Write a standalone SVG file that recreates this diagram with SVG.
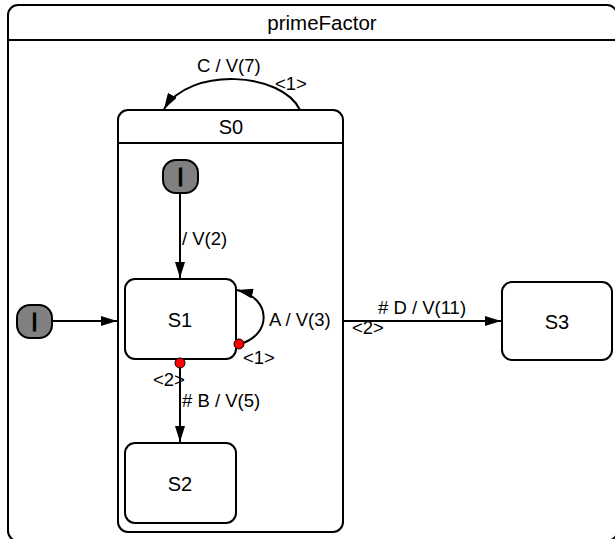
<svg xmlns="http://www.w3.org/2000/svg" width="615" height="539" viewBox="0 0 615 539">
<defs>
<style>
.st{fill:#fff;stroke:#000;stroke-width:2}
.hd{stroke:#000;stroke-width:2}
.ini{fill:#808080;stroke:#000;stroke-width:2}
.name{font-family:"Liberation Sans",Arial,sans-serif;font-size:20px;text-anchor:middle;fill:#000}
.ii{font-family:"Liberation Sans",Arial,sans-serif;font-size:25px;text-anchor:middle;fill:#000;stroke:#000;stroke-width:0.9}
.title{font-family:"Liberation Sans",Arial,sans-serif;font-size:20.5px;text-anchor:middle;fill:#000}
.lbl{font-family:"Liberation Sans",Arial,sans-serif;font-size:18.5px;fill:#000}
.con{fill:none;stroke:#000;stroke-width:2;marker-end:url(#arr)}
.dot{fill:#f00;stroke:#000;stroke-width:1}
</style>
<marker id="arr" viewBox="0 0 16 10" refX="16" refY="5" markerWidth="16" markerHeight="10" markerUnits="userSpaceOnUse" orient="auto">
<path d="M0,0 L16,5 L0,10 z" fill="#000"/>
</marker>
</defs>
<g id="primeFactor">
<rect class="st" x="8" y="5" width="609" height="536" rx="10"/>
<line class="hd" x1="8" y1="40" x2="617" y2="40"/>
<text class="title" x="322" y="30">primeFactor</text>
</g>
<g id="S0">
<rect class="st" x="118" y="110" width="225" height="422" rx="10"/>
<line class="hd" x1="118" y1="143" x2="343" y2="143"/>
<text class="name" x="231" y="134">S0</text>
</g>
<g id="init_outer">
<rect class="ini" x="17" y="305" width="35" height="33" rx="13"/>
<text class="ii" x="34.5" y="330.5">I</text>
</g>
<g id="init_inner">
<rect class="ini" x="163" y="160" width="35" height="33" rx="13"/>
<text class="ii" x="180.5" y="185.5">I</text>
</g>
<g id="S1">
<rect class="st" x="125" y="279" width="111" height="80" rx="10"/>
<text class="name" x="180" y="327">S1</text>
</g>
<g id="S2">
<rect class="st" x="125" y="443" width="111" height="80" rx="10"/>
<text class="name" x="180" y="491">S2</text>
</g>
<g id="S3">
<rect class="st" x="502" y="282" width="110" height="78" rx="10"/>
<text class="name" x="557" y="329">S3</text>
</g>
<g id="connectors">
<path class="con" d="M300,110 C282,72 190,66 164,109"/>
<path class="con" d="M52,321 L117,321"/>
<path class="con" d="M180,193 L180,278"/>
<path class="con" d="M240,344 C272,335 272,298 237,290"/>
<path class="con" d="M180,363 L180,442"/>
<path class="con" d="M343,321 L501,321"/>
<circle class="dot" cx="239" cy="344" r="5"/>
<circle class="dot" cx="180" cy="363" r="5"/>
<text class="lbl" x="197" y="72">C / V(7)</text>
<text class="lbl" x="275" y="90">&lt;1&gt;</text>
<text class="lbl" x="182" y="245">/ V(2)</text>
<text class="lbl" x="269" y="326">A / V(3)</text>
<text class="lbl" x="243" y="364">&lt;1&gt;</text>
<text class="lbl" x="153" y="386">&lt;2&gt;</text>
<text class="lbl" x="182" y="407"># B / V(5)</text>
<text class="lbl" x="378" y="314"># D / V(11)</text>
<text class="lbl" x="352" y="334">&lt;2&gt;</text>
</g>
</svg>
